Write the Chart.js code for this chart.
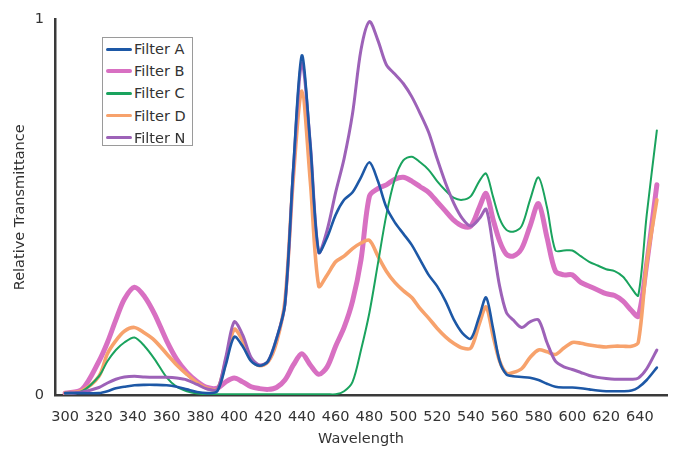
<!DOCTYPE html>
<html>
<head>
<meta charset="utf-8">
<script src="https://cdn.jsdelivr.net/npm/chart.js@4"></script>
<style>
  html, body { margin: 0; padding: 0; background: #fff; }
  #wrap { position: relative; width: 673px; height: 451px; }
  canvas { display: block; }
  #legend { position: absolute; left: 102px; top: 37px; width: 89px; height: 107px;
            border: 1px solid #9a9a9a; background: #fff; font-family: "DejaVu Sans", Verdana, sans-serif;
            font-size: 14.5px; color: #333; }
  .row { position: absolute; left: 0; height: 18px; width: 89px; }
  .sw { position: absolute; left: 3px; width: 26px; top: 50%; border-radius: 2px; }
  .lb { position: absolute; left: 31px; top: 0; line-height: 18px; white-space: nowrap; }
</style>
</head>
<body>
<div id="wrap">
  <canvas id="c" width="673" height="451"></canvas>
  <div id="legend"></div>
</div>
<script>
// Wavelength grid (nm)
const wavelengths = [300,310,320,325,330,335,341,347,353,360,366,372,378,384,390,395,400,405,410,415,420,425,430,435,440,445,450,455,460,465,470,475,480,485,490,495,500,505,510,515,520,525,530,535,540,545,549,553,557,561,565,570,575,580,585,590,595,600,605,610,615,620,625,630,635,639,644,650];

const filterA = [0.005,0.005,0.005,0.01,0.018,0.022,0.026,0.027,0.027,0.026,0.022,0.015,0.008,0.005,0.01,0.08,0.155,0.13,0.09,0.078,0.09,0.15,0.24,0.61,0.905,0.67,0.38,0.42,0.48,0.52,0.54,0.58,0.62,0.57,0.5,0.46,0.43,0.4,0.36,0.32,0.29,0.25,0.2,0.165,0.15,0.21,0.26,0.18,0.09,0.055,0.05,0.048,0.046,0.04,0.03,0.022,0.02,0.02,0.018,0.015,0.012,0.01,0.01,0.01,0.012,0.02,0.04,0.073];

const filterB = [0.005,0.015,0.09,0.14,0.2,0.255,0.287,0.262,0.215,0.145,0.095,0.06,0.036,0.02,0.018,0.035,0.045,0.035,0.022,0.017,0.015,0.02,0.04,0.08,0.11,0.08,0.055,0.075,0.13,0.18,0.25,0.36,0.53,0.55,0.56,0.575,0.58,0.57,0.555,0.54,0.515,0.49,0.465,0.45,0.45,0.5,0.537,0.47,0.41,0.375,0.37,0.39,0.45,0.51,0.42,0.33,0.32,0.32,0.3,0.29,0.28,0.27,0.265,0.25,0.225,0.21,0.35,0.56];

const filterC = [0.003,0.01,0.05,0.09,0.12,0.14,0.153,0.13,0.095,0.047,0.022,0.01,0.004,0.002,0.002,0.002,0.002,0.002,0.002,0.002,0.002,0.002,0.002,0.002,0.002,0.002,0.002,0.002,0.002,0.01,0.035,0.12,0.22,0.35,0.48,0.575,0.625,0.635,0.62,0.6,0.57,0.545,0.525,0.52,0.53,0.57,0.59,0.53,0.47,0.44,0.435,0.45,0.52,0.58,0.5,0.385,0.385,0.385,0.37,0.355,0.345,0.335,0.33,0.315,0.285,0.265,0.48,0.705];

const filterD = [0.005,0.012,0.05,0.11,0.145,0.17,0.18,0.165,0.145,0.11,0.08,0.055,0.033,0.018,0.015,0.09,0.175,0.145,0.095,0.078,0.088,0.14,0.25,0.58,0.81,0.57,0.29,0.32,0.355,0.37,0.39,0.405,0.412,0.37,0.33,0.3,0.278,0.26,0.23,0.205,0.178,0.155,0.137,0.125,0.125,0.19,0.235,0.16,0.09,0.058,0.06,0.07,0.1,0.12,0.115,0.108,0.125,0.14,0.138,0.133,0.13,0.128,0.13,0.13,0.13,0.14,0.35,0.52];

const filterN = [0.005,0.008,0.02,0.032,0.042,0.048,0.05,0.048,0.047,0.047,0.045,0.04,0.028,0.016,0.015,0.1,0.195,0.16,0.1,0.08,0.09,0.15,0.24,0.6,0.885,0.67,0.38,0.44,0.54,0.63,0.75,0.92,0.995,0.945,0.88,0.855,0.83,0.795,0.75,0.7,0.63,0.565,0.51,0.47,0.45,0.47,0.495,0.4,0.29,0.22,0.2,0.18,0.195,0.2,0.14,0.09,0.075,0.068,0.06,0.052,0.047,0.044,0.042,0.042,0.042,0.045,0.07,0.12];

const seriesNames = ["Filter A","Filter B","Filter C","Filter D","Filter N"];
const xTickValues = [300,320,340,360,380,400,420,440,460,480,500,520,540,560,580,600,620,640];
const yTickValues = [0,1];

const seriesValues = [filterA, filterB, filterC, filterD, filterN];
const colors = ["#1d58a6","#d870c2","#1aa35e","#f7a26c","#9d62b8"];
const widths = [2.6,5,2,3.6,3];
const orders = [0,4,2,3,1];

const datasets = seriesValues.map((vals, k) => ({
  label: seriesNames[k],
  data: wavelengths.map((w, i) => ({x: w, y: vals[i]})),
  borderColor: colors[k],
  backgroundColor: colors[k],
  borderWidth: widths[k],
  pointRadius: 0,
  tension: 0.3,
  fill: false,
  order: orders[k],
  borderCapStyle: 'round',
  borderJoinStyle: 'round'
}));

const FONT = "'DejaVu Sans', Verdana, sans-serif";
const FS = 14.5;

new Chart(document.getElementById('c'), {
  type: 'line',
  data: { datasets },
  options: {
    responsive: false,
    animation: false,
    layout: { padding: { left: 8, right: 6, top: 15, bottom: 0 } },
    plugins: { legend: { display: false }, tooltip: { enabled: false } },
    scales: {
      x: {
        type: 'linear', min: 294, max: 656,
        grid: { display: false, drawTicks: false },
        border: { display: true, color: '#3a3a3a', width: 2.5 },
        afterBuildTicks: s => { s.ticks = xTickValues.map(v => ({value: v})); },
        afterFit: s => { s.height = 56; },
        ticks: { padding: 14, color: '#333', font: { family: FONT, size: FS }, maxRotation: 0, autoSkip: false },
        title: { display: true, text: 'Wavelength', color: '#333', font: { family: FONT, size: FS }, padding: { top: 0, bottom: 3 } }
      },
      y: {
        min: 0, max: 1,
        grid: { display: false, drawTicks: false },
        border: { display: true, color: '#3a3a3a', width: 2.5 },
        afterBuildTicks: s => { s.ticks = yTickValues.map(v => ({value: v})); },
        afterFit: s => { s.width = 47; },
        ticks: { padding: 11, color: '#333', font: { family: FONT, size: FS } },
        title: { display: true, text: 'Relative Transmittance', color: '#333', font: { family: FONT, size: FS }, padding: { top: 4, bottom: 4 } }
      }
    }
  }
});

// legend built from the datasets
const leg = document.getElementById('legend');
datasets.forEach((d, i) => {
  const row = document.createElement('div');
  row.className = 'row';
  row.style.top = (2 + i * 22.2) + 'px';
  const sw = document.createElement('div');
  sw.className = 'sw';
  const h = i === 1 ? 4 : 3;
  sw.style.height = h + 'px';
  sw.style.marginTop = (-h / 2) + 'px';
  sw.style.background = d.borderColor;
  const lb = document.createElement('div');
  lb.className = 'lb';
  lb.textContent = d.label;
  row.appendChild(sw); row.appendChild(lb);
  leg.appendChild(row);
});
</script>
</body>
</html>
